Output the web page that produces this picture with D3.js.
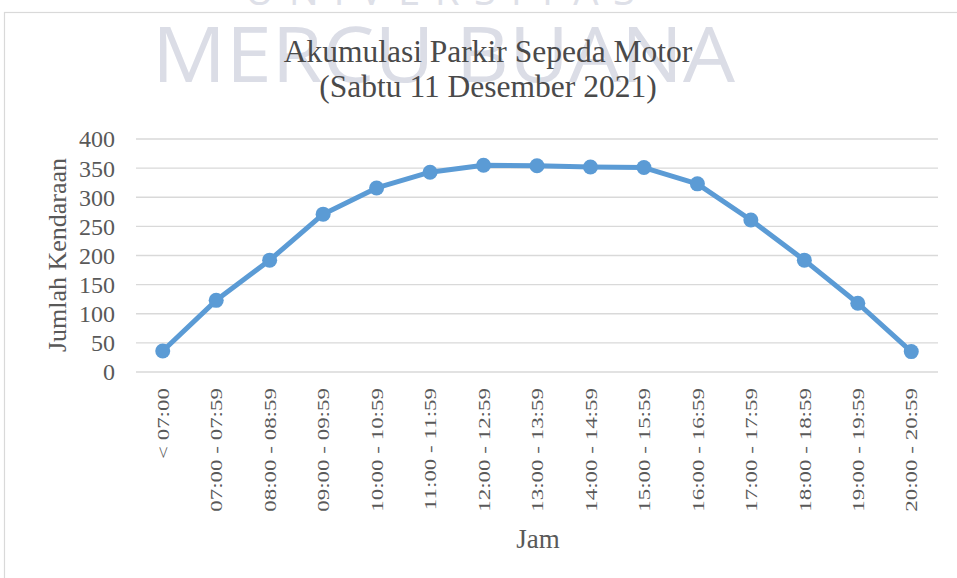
<!DOCTYPE html>
<html>
<head>
<meta charset="utf-8">
<script src="https://cdn.jsdelivr.net/npm/d3@7"></script>
<style>
  html, body { margin: 0; padding: 0; background: #fff; }
  svg { display: block; }
  text { font-family: 'Liberation Serif', 'Times New Roman', serif; }
</style>
</head>
<body>
<svg id="chart" width="957" height="578"></svg>
<script>
const categories = ['< 07:00', '07:00 - 07:59', '08:00 - 08:59', '09:00 - 09:59', '10:00 - 10:59',
  '11:00 - 11:59', '12:00 - 12:59', '13:00 - 13:59', '14:00 - 14:59', '15:00 - 15:59',
  '16:00 - 16:59', '17:00 - 17:59', '18:00 - 18:59', '19:00 - 19:59', '20:00 - 20:59'];
const values = [36, 123, 192, 271, 316, 343, 355, 354, 352, 351, 323, 261, 192, 118, 35];
const yTicks = [0, 50, 100, 150, 200, 250, 300, 350, 400];

const svg = d3.select('#chart');
const width = 957;
const height = 578;
const margin = { top: 139, right: 19, bottom: 206, left: 136 };

// chart frame (open on right/bottom like the clipped screenshot)
svg.append('rect')
  .attr('x', 4.5).attr('y', 12.5)
  .attr('width', 1000).attr('height', 1000)
  .attr('fill', '#fff')
  .attr('stroke', '#d9d9d9')
  .attr('stroke-width', 1.2);

// watermark
svg.append('text')
  .attr('x', 245).attr('y', 5)
  .attr('textLength', 390)
  .attr('lengthAdjust', 'spacing')
  .style('font-family', "'Open Sans', sans-serif")
  .style('font-size', '40px')
  .attr('fill', '#c9ccd9')
  .attr('opacity', 0.6)
  .text('UNIVERSITAS');

svg.append('text')
  .attr('x', 152).attr('y', 82)
  .attr('textLength', 583)
  .attr('lengthAdjust', 'spacingAndGlyphs')
  .style('font-family', "'Open Sans', sans-serif")
  .style('font-size', '76px')
  .attr('fill', '#c8cbda')
  .attr('opacity', 0.65)
  .text('MERCU BUANA');

const x = d3.scalePoint()
  .domain(categories)
  .range([margin.left, width - margin.right])
  .padding(0.5);

const y = d3.scaleLinear()
  .domain([0, 400])
  .range([height - margin.bottom, margin.top]);

// gridlines
svg.append('g')
  .selectAll('line')
  .data(yTicks)
  .join('line')
  .attr('x1', margin.left)
  .attr('x2', width - margin.right)
  .attr('y1', d => y(d))
  .attr('y2', d => y(d))
  .attr('stroke', '#d9d9d9')
  .attr('stroke-width', 1.3);

// y tick labels
svg.append('g')
  .selectAll('text')
  .data(yTicks)
  .join('text')
  .attr('x', 115)
  .attr('y', d => y(d))
  .attr('dy', '0.35em')
  .attr('text-anchor', 'end')
  .attr('fill', '#595959')
  .style('font-size', '24px')
  .text(d => d);

// x tick labels (rotated)
svg.append('g')
  .selectAll('text')
  .data(categories)
  .join('text')
  .attr('transform', d => `translate(${x(d)},388) rotate(-90) scale(1,0.75)`)
  .attr('dy', '0.36em')
  .attr('text-anchor', 'end')
  .attr('fill', '#595959')
  .style('font-size', '23px')
  .text(d => d);

// line + markers
const line = d3.line()
  .x((d, i) => x(categories[i]))
  .y(d => y(d));

svg.append('path')
  .datum(values)
  .attr('d', line)
  .attr('fill', 'none')
  .attr('stroke', '#5b9bd5')
  .attr('stroke-width', 5)
  .attr('stroke-linejoin', 'round');

svg.append('g')
  .selectAll('circle')
  .data(values)
  .join('circle')
  .attr('cx', (d, i) => x(categories[i]))
  .attr('cy', d => y(d))
  .attr('r', 7.5)
  .attr('fill', '#5b9bd5');

// titles
const title = svg.append('text')
  .attr('x', 488)
  .attr('text-anchor', 'middle')
  .attr('fill', '#4a4a4a')
  .style('font-size', '31.5px');
title.append('tspan').attr('x', 488).attr('y', 62).text('Akumulasi Parkir Sepeda Motor');
title.append('tspan').attr('x', 488).attr('y', 97).text('(Sabtu 11 Desember 2021)');

svg.append('text')
  .attr('transform', 'translate(66,255) rotate(-90)')
  .attr('text-anchor', 'middle')
  .attr('fill', '#595959')
  .style('font-size', '26px')
  .text('Jumlah Kendaraan');

svg.append('text')
  .attr('x', 538).attr('y', 548)
  .attr('text-anchor', 'middle')
  .attr('fill', '#595959')
  .style('font-size', '27px')
  .text('Jam');
</script>
</body>
</html>
